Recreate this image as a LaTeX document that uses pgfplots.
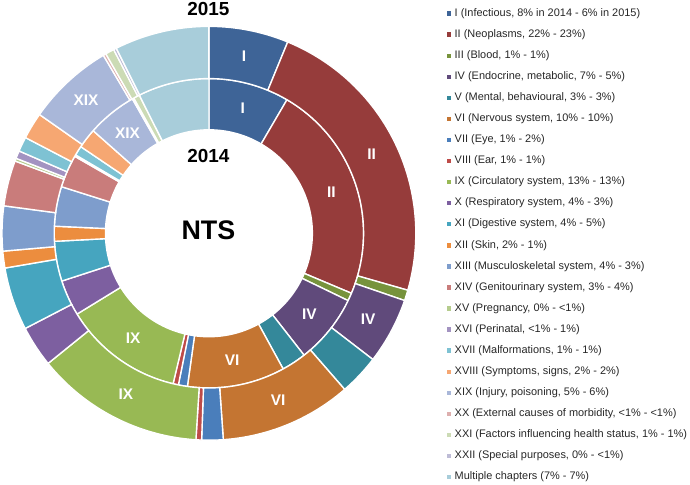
\documentclass[border=0pt]{standalone}
\usepackage{pgfplots}
\pgfplotsset{compat=1.18}
\usepackage{pgfplotstable}
\usepackage{fontspec}
\setmainfont{Liberation Sans}

\definecolor{cI}{HTML}{3E6497}
\definecolor{cII}{HTML}{963C3B}
\definecolor{cIII}{HTML}{77933C}
\definecolor{cIV}{HTML}{604A7B}
\definecolor{cV}{HTML}{34889A}
\definecolor{cVI}{HTML}{C47532}
\definecolor{cVII}{HTML}{4A7EBB}
\definecolor{cVIII}{HTML}{BE4B48}
\definecolor{cIX}{HTML}{98B954}
\definecolor{cX}{HTML}{7D5FA0}
\definecolor{cXI}{HTML}{46A5BF}
\definecolor{cXII}{HTML}{EC8D3E}
\definecolor{cXIII}{HTML}{7E9DCC}
\definecolor{cXIV}{HTML}{C97C7B}
\definecolor{cXV}{HTML}{B5CC8D}
\definecolor{cXVI}{HTML}{A393C1}
\definecolor{cXVII}{HTML}{7EC2D3}
\definecolor{cXVIII}{HTML}{F6A772}
\definecolor{cXIX}{HTML}{A9B7D9}
\definecolor{cXX}{HTML}{DDAFAE}
\definecolor{cXXI}{HTML}{CCDBB5}
\definecolor{cXXII}{HTML}{BEBCD6}
\definecolor{cMC}{HTML}{A8CDDA}

% shares in percent, 2014 (inner ring) and 2015 (outer ring)
\pgfplotstableread{
id p14 p15 col lab show
1 8.42 6.22 cI I 1
2 22.92 23.22 cII II 1
3 0.83 0.83 cIII III 0
4 7.28 5.17 cIV IV 1
5 2.58 3.17 cV V 0
6 10.19 10.28 cVI VI 1
7 0.94 1.67 cVII VII 0
8 0.56 0.44 cVIII VIII 0
9 12.53 13.17 cIX IX 1
10 3.75 3.22 cX X 0
11 4.17 4.92 cXI XI 0
12 1.56 1.31 cXII XII 0
13 4.14 3.50 cXIII XIII 0
14 3.42 3.56 cXIV XIV 0
15 0 0.22 cXV XV 0
16 0.17 0.61 cXVI XVI 0
17 1.00 1.14 cXVII XVII 0
18 2.08 2.08 cXVIII XVIII 0
19 5.22 6.75 cXIX XIX 1
20 0.17 0.22 cXX XX 0
21 0.64 0.69 cXXI XXI 0
22 0 0.22 cXXII XXII 0
23 7.44 7.39 cMC MC 0
}\datatable

\def\cx{210}
\def\cy{248.5}

\tikzset{slicelabel/.style={text=white, font=\bfseries\fontsize{15.5bp}{15.5bp}\selectfont, inner sep=0pt}}

% annular sector from angle #1 to #2 (clockwise from 12 o'clock), radii #3..#4
\newcommand\buildslice[6]{%
  \pgfmathtruncatemacro\nseg{max(2,ceil((#2-#1)/1.5))}%
  \gdef\slicecoords{}%
  \foreach \k in {0,...,\nseg}{%
    \pgfmathsetmacro\tang{#1+(#2-#1)*\k/\nseg}%
    \pgfmathsetmacro\xx{\cx+#4*sin(\tang)}%
    \pgfmathsetmacro\yy{\cy+#4*cos(\tang)}%
    \xdef\slicecoords{\slicecoords(\xx,\yy)}%
  }%
  \foreach \k in {\nseg,...,0}{%
    \pgfmathsetmacro\tang{#1+(#2-#1)*\k/\nseg}%
    \pgfmathsetmacro\xx{\cx+#3*sin(\tang)}%
    \pgfmathsetmacro\yy{\cy+#3*cos(\tang)}%
    \xdef\slicecoords{\slicecoords(\xx,\yy)}%
  }%
  \edef\doslice{\noexpand\addplot[fill=#5, draw=white, line width=1.4bp, #6] coordinates {\slicecoords} -- cycle;}%
  \doslice
}

\newcommand\drawring[4]{%
  \def\cum{0}%
  \pgfplotsforeachungrouped \i in {0,...,22}{%
    \pgfplotstablegetelem{\i}{#1}\of\datatable \let\val\pgfplotsretval
    \pgfplotstablegetelem{\i}{col}\of\datatable \let\colname\pgfplotsretval
    \pgfplotstablegetelem{\i}{lab}\of\datatable \let\labname\pgfplotsretval
    \pgfplotstablegetelem{\i}{show}\of\datatable \let\showlab\pgfplotsretval
    \pgfmathsetmacro\angA{3.6*\cum}%
    \pgfmathsetmacro\cum{\cum+\val}%
    \pgfmathsetmacro\angB{3.6*\cum}%
    \ifdim\val pt>0pt
      \buildslice{\angA}{\angB}{#2}{#3}{\colname}{#4}%
    \fi
    \ifnum\showlab=1
      \pgfmathsetmacro\angM{(\angA+\angB)/2}%
      \pgfmathsetmacro\rM{(#2+#3)/2}%
      \pgfmathsetmacro\lx{\cx+\rM*sin(\angM)}%
      \pgfmathsetmacro\ly{\cy+\rM*cos(\angM)}%
      \edef\donode{\noexpand\node[slicelabel] at (axis cs:\lx,\ly) {\labname};}%
      \donode
    \fi
  }%
}

\begin{document}
\begin{tikzpicture}
\begin{axis}[
  scale only axis, width=690bp, height=483bp,
  xmin=0, xmax=690, ymin=0, ymax=483,
  axis lines=box, axis line style={draw=none},
  xtick=\empty, ytick=\empty,
  clip=false,
  legend image code/.code={\fill[#1, draw=none] (0bp,-2.2bp) rectangle (4.4bp,2.2bp);},
  legend style={at={(axis cs:446,476.8)}, anchor=north west, draw=none, fill=none,
    font=\fontsize{11bp}{13bp}\selectfont, text=black!85,
    nodes={inner sep=0bp, text height=8bp, text depth=2.5bp},
    row sep=10.68bp, column sep=3.5bp, cells={anchor=west}},
]
\drawring{p14}{104}{155.5}{forget plot}
\drawring{p15}{155.5}{208}{}
\node[font=\bfseries\fontsize{19bp}{19bp}\selectfont, inner sep=0pt] at (axis cs:209.5,473.5) {2015};
\node[font=\bfseries\fontsize{19bp}{19bp}\selectfont, inner sep=0pt] at (axis cs:209.5,326.5) {2014};
\node[font=\bfseries\fontsize{27bp}{27bp}\selectfont, inner sep=0pt] at (axis cs:209.5,251.5) {NTS};
\legend{
{I (Infectious, 8\% in 2014 - 6\% in 2015)},
{II (Neoplasms, 22\% - 23\%)},
{III (Blood, 1\% - 1\%)},
{IV (Endocrine, metabolic, 7\% - 5\%)},
{V (Mental, behavioural, 3\% - 3\%)},
{VI (Nervous system, 10\% - 10\%)},
{VII (Eye, 1\% - 2\%)},
{VIII (Ear, 1\% - 1\%)},
{IX (Circulatory system, 13\% - 13\%)},
{X (Respiratory system, 4\% - 3\%)},
{XI (Digestive system, 4\% - 5\%)},
{XII (Skin, 2\% - 1\%)},
{XIII (Musculoskeletal system, 4\% - 3\%)},
{XIV (Genitourinary system, 3\% - 4\%)},
{XV (Pregnancy, 0\% - <1\%)},
{XVI (Perinatal, <1\% - 1\%)},
{XVII (Malformations, 1\% - 1\%)},
{XVIII (Symptoms, signs, 2\% - 2\%)},
{XIX (Injury, poisoning, 5\% - 6\%)},
{XX (External causes of morbidity, <1\% - <1\%)},
{XXI (Factors influencing health status, 1\% - 1\%)},
{XXII (Special purposes, 0\% - <1\%)},
{Multiple chapters (7\% - 7\%)}
}
\end{axis}
\end{tikzpicture}
\end{document}
